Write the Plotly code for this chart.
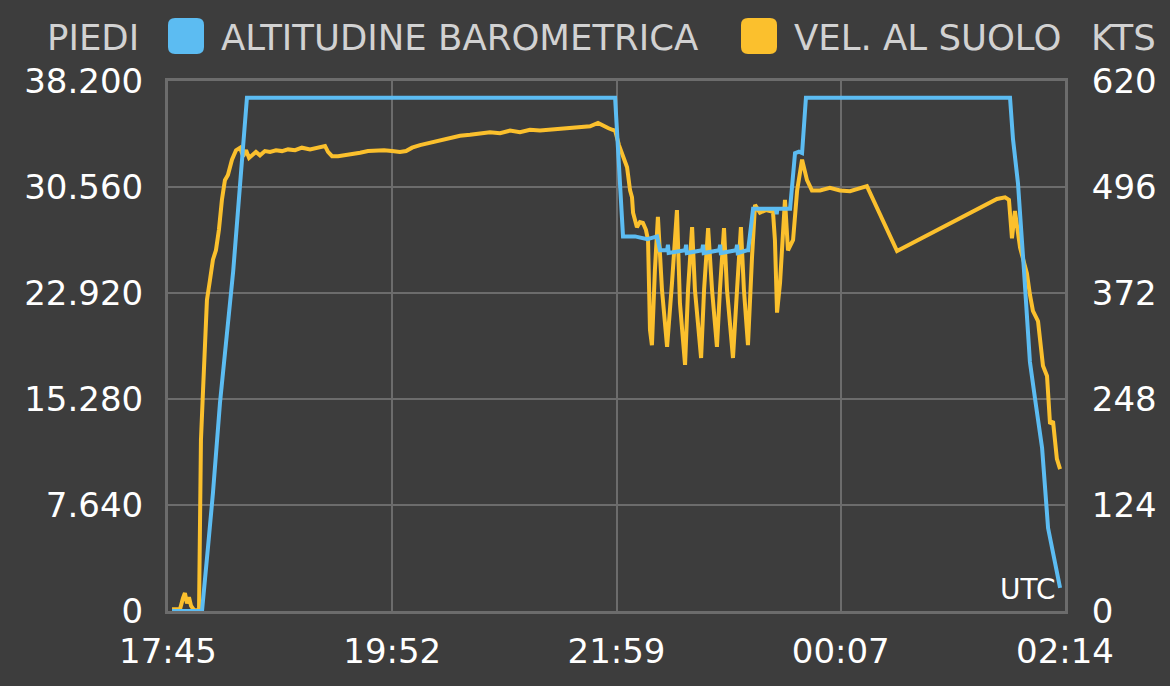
import plotly.graph_objects as go

# ---------------- data ----------------
# time in minutes after 17:45 UTC
x_tick_labels = ["17:45", "19:52", "21:59", "00:07", "02:14"]
x_span_minutes = 509  # 17:45 -> 02:14

alt_ticks = [0, 7640, 15280, 22920, 30560, 38200]
alt_tick_labels = ["0", "7.640", "15.280", "22.920", "30.560", "38.200"]
kts_ticks = [0, 124, 248, 372, 496, 620]
kts_tick_labels = ["0", "124", "248", "372", "496", "620"]

alt_time = [2.3, 19.3, 22.7, 25.5, 29.5, 37.0, 44.8, 253.7, 258.2, 265.0, 272.0, 276.5, 277.5,
            279.2, 283.2, 283.7, 284.1, 293.5, 294.0, 294.4, 303.1, 303.6, 304.0, 312.8,
            313.3, 313.7, 322.4, 322.9, 323.3, 328.6, 329.2, 332.0, 345.0, 345.4, 345.8,
            353.0, 355.8, 358.0, 359.8, 362.0, 477.8, 479.5, 482.3, 485.7, 489.1, 492.5,
            496.0, 499.4, 501.1, 503.3, 505.0, 506.2]
alt_feet = [0, 0, 4600, 8500, 15000, 24500, 37000, 37000, 27000, 27000, 26800, 27000, 27000,
            26000, 26000, 26400, 25800, 26000, 26400, 25800, 26000, 26400, 25800, 26000,
            26400, 25800, 26000, 26400, 25800, 26000, 26000, 29000, 29000, 28600, 29000,
            29000, 33000, 33100, 33000, 37000, 37000, 34000, 30850, 24580, 17950, 14850,
            11750, 5980, 4900, 3680, 2590, 1660]

gs_time = [2.3, 6.8, 8.5, 9.6, 10.8, 11.9, 13.1, 14.8, 17.6, 18.7, 19.9, 21.0, 22.1, 23.8,
           25.5, 27.2, 28.9, 30.6, 32.3, 34.0, 36.3, 38.6, 40.9, 42.6, 44.3, 46.0, 47.7,
           49.9, 52.2, 55.0, 57.9, 61.3, 64.7, 68.1, 72.1, 76.0, 80.6, 85.1, 89.1, 90.8,
           93.1, 96.5, 100.4, 104.4, 109.0, 113.5, 118.0, 122.6, 127.1, 131.6, 135.1,
           138.5, 143.0, 147.5, 152.1, 156.6, 161.2, 165.7, 171.4, 177.0, 182.7, 188.4,
           194.1, 199.7, 205.4, 211.1, 216.8, 222.4, 228.1, 233.8, 239.5, 244.0, 247.4,
           249.7, 252.0, 253.7, 255.9, 258.2, 260.5, 262.2, 263.3, 263.9, 266.1, 267.8,
           269.5, 271.2, 272.4, 273.5, 274.6, 276.3, 278.0, 280.3, 283.2, 286.0, 288.8,
           290.5, 293.4, 295.1, 297.4, 299.0, 302.5, 304.2, 306.5, 308.7, 311.5, 313.2,
           315.5, 317.2, 320.6, 322.9, 325.1, 326.8, 329.1, 331.4, 333.1, 335.9, 339.3,
           343.3, 344.4, 345.6, 347.3, 350.1, 351.8, 354.7, 357.0, 359.8, 362.6, 365.4,
           370.0, 375.6, 381.3, 387.0, 392.7, 396.6, 413.7, 470.4, 475.0, 477.2, 478.9,
           480.6, 483.5, 485.7, 487.4, 489.1, 490.8, 493.7, 495.4, 496.5, 498.8, 500.5,
           502.2, 504.4, 506.2]
gs_kts = [2, 2, 15, 21, 9, 16, 6, 1, 1, 200, 259, 311, 364, 387,
          411, 422, 446, 481, 504, 510, 528, 539, 542, 532, 539, 530, 533,
          537, 533, 538, 537, 539, 538, 540, 539, 542, 540, 542, 544, 537,
          532, 532, 533, 535, 536, 538, 539, 539, 538, 537, 538,
          542, 545, 547, 550, 551, 553, 556, 557, 558, 560, 559,
          562, 560, 563, 562, 563, 564, 565, 566, 567, 571, 567,
          565, 563, 562, 545, 531, 519, 492, 484, 466, 449, 455,
          454, 446, 434, 329, 311, 399, 461, 376, 309, 384, 469,
          360, 288, 376, 449, 376, 296, 376, 448, 376, 309, 376,
          448, 376, 296, 376, 449, 376, 311, 414, 475, 466, 469,
          467, 434, 349, 384, 481, 422, 434, 492, 528, 504, 492,
          492, 495, 492, 491, 494, 497, 421, 482, 484, 481, 436,
          468, 425, 408, 395, 370, 351, 339, 311, 287, 275, 219,
          222, 178, 166]

# ---------------- style ----------------
BG = "#3d3d3d"
GRID = "#6c6c6c"
BLUE = "#5cbcf2"
YELLOW = "#fbc02d"
FONT = "DejaVu Sans"

W, H = 1170, 686
L, R, T, B = 168, 1065, 81, 611


def px(x):
    return (x - L) / (R - L)


def py(y):
    return (B - y) / (B - T)


def rrect(x0, y0, x1, y1, r):
    # rounded rectangle path in paper coordinates from pixel coordinates
    pts = [
        f"M {px(x0 + r)},{py(y0)}",
        f"L {px(x1 - r)},{py(y0)}",
        f"Q {px(x1)},{py(y0)} {px(x1)},{py(y0 + r)}",
        f"L {px(x1)},{py(y1 - r)}",
        f"Q {px(x1)},{py(y1)} {px(x1 - r)},{py(y1)}",
        f"L {px(x0 + r)},{py(y1)}",
        f"Q {px(x0)},{py(y1)} {px(x0)},{py(y1 - r)}",
        f"L {px(x0)},{py(y0 + r)}",
        f"Q {px(x0)},{py(y0)} {px(x0 + r)},{py(y0)}",
        "Z",
    ]
    return " ".join(pts)


x_tickvals = [i * x_span_minutes / 4 for i in range(5)]

fig = go.Figure()
fig.add_trace(go.Scatter(x=gs_time, y=gs_kts, mode="lines", yaxis="y",
                         line=dict(color=YELLOW, width=4), name="VEL. AL SUOLO",
                         showlegend=False, hoverinfo="skip"))
fig.add_trace(go.Scatter(x=alt_time, y=alt_feet, mode="lines", yaxis="y2",
                         line=dict(color=BLUE, width=4), name="ALTITUDINE BAROMETRICA",
                         showlegend=False, hoverinfo="skip"))

tickfont = dict(family=FONT, size=34, color="#ffffff")

fig.update_layout(
    width=W, height=H,
    paper_bgcolor=BG, plot_bgcolor=BG,
    margin=dict(l=L, r=W - R, t=T, b=H - B, pad=0, autoexpand=False),
    showlegend=False,
    xaxis=dict(range=[0, x_span_minutes], tickvals=x_tickvals, ticktext=x_tick_labels,
               showgrid=True, gridcolor=GRID, gridwidth=2, automargin=False,
               showline=True, linecolor=GRID, linewidth=3, mirror=True,
               ticks="outside", ticklen=8, tickcolor="rgba(0,0,0,0)",
               tickfont=tickfont, zeroline=False, fixedrange=True),
    yaxis=dict(range=[0, 620], tickvals=kts_ticks, ticktext=kts_tick_labels, side="right",
               showgrid=True, gridcolor=GRID, gridwidth=2, automargin=False,
               showline=True, linecolor=GRID, linewidth=3, mirror=True,
               ticks="outside", ticklen=17, tickcolor="rgba(0,0,0,0)",
               tickfont=tickfont, zeroline=False),
    yaxis2=dict(range=[0, 38200], tickvals=alt_ticks, ticktext=alt_tick_labels, side="left",
                overlaying="y", showgrid=False, showline=False, automargin=False,
                ticks="outside", ticklen=17, tickcolor="rgba(0,0,0,0)",
                tickfont=tickfont, zeroline=False),
)

label_font = dict(family=FONT, size=35.5, color="#d2d2d2")
annos = [
    dict(x=px(141), y=py(37), text="PIEDI", xanchor="right", yanchor="middle", font=label_font),
    dict(x=px(219), y=py(37), text="ALTITUDINE BAROMETRICA", xanchor="left", yanchor="middle", font=label_font),
    dict(x=px(792), y=py(37), text="VEL. AL SUOLO", xanchor="left", yanchor="middle", font=label_font),
    dict(x=px(1089), y=py(37), text="KTS", xanchor="left", yanchor="middle", font=label_font),
    dict(x=px(1058), y=py(589), text="UTC", xanchor="right", yanchor="middle",
         font=dict(family=FONT, size=28, color="#ffffff")),
]
for a in annos:
    a.update(xref="paper", yref="paper", showarrow=False)
fig.update_layout(annotations=annos)

fig.update_layout(shapes=[
    dict(type="path", xref="paper", yref="paper", path=rrect(168, 18, 204, 54, 7),
         fillcolor=BLUE, line=dict(width=0)),
    dict(type="path", xref="paper", yref="paper", path=rrect(741, 18, 777, 54, 7),
         fillcolor=YELLOW, line=dict(width=0)),
])

fig.write_html("out.html", config={"displayModeBar": False},
               post_script="document.body.style.margin='0';document.body.style.overflow='hidden';")
